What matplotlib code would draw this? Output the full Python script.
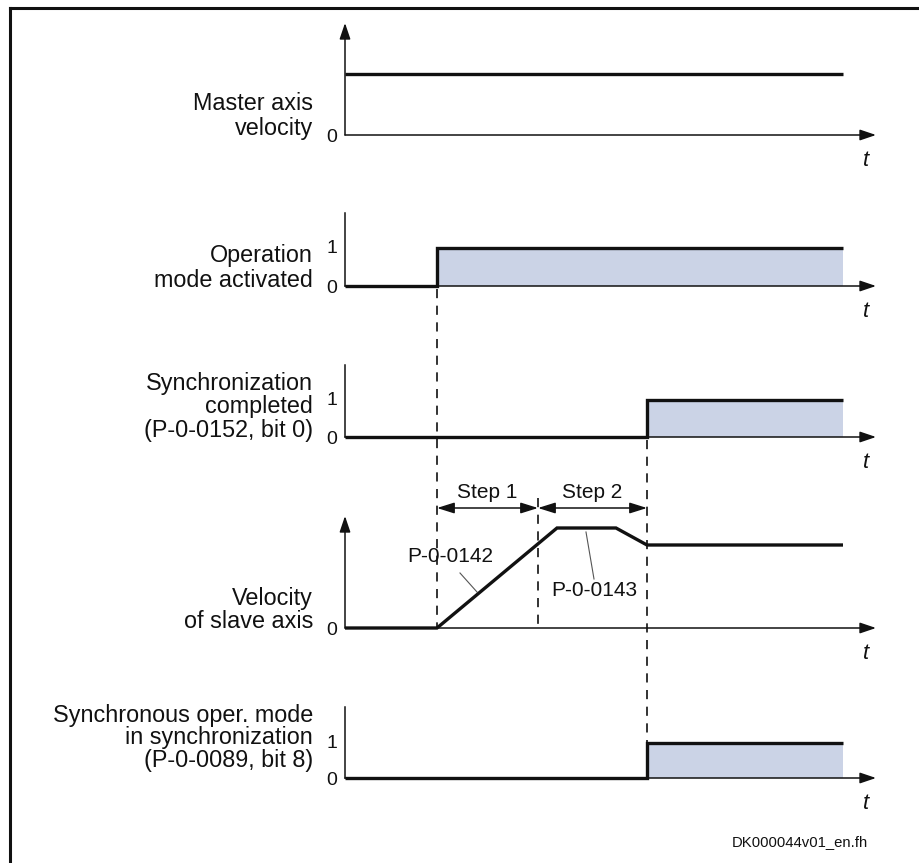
import matplotlib
matplotlib.use("Agg")
import matplotlib.pyplot as plt
import matplotlib.transforms as mtransforms

plt.rcParams["font.family"] = ["Liberation Sans", "DejaVu Sans"]

# ---- time instants (time axis units, origin at the vertical axes) ----
T_END = 498            # end of the drawn signals
T_AXIS_END = 531       # tip of the time-axis arrows
T_ACTIVATE = 92        # operation mode activated
T_STEP1_END = 193      # end of step 1
T_PLATEAU_START = 212  # slave reaches its peak velocity
T_PLATEAU_END = 271    # slave starts decelerating
T_SYNC = 302           # synchronization completed

# ---- signals ----
master_t = [0, T_END]
master_v = [1, 1]

opmode_t = [0, T_ACTIVATE, T_ACTIVATE, T_END]
opmode_v = [0, 0, 1, 1]

syncdone_t = [0, T_SYNC, T_SYNC, T_END]
syncdone_v = [0, 0, 1, 1]

slave_t = [0, T_ACTIVATE, T_PLATEAU_START, T_PLATEAU_END, T_SYNC, T_END]
slave_v = [0, 0, 1.0, 1.0, 0.83, 0.83]

syncmode_t = [0, T_SYNC, T_SYNC, T_END]
syncmode_v = [0, 0, 1, 1]

panel_labels = [
    ["Master axis", "velocity"],
    ["Operation", "mode activated"],
    ["Synchronization", "completed", "(P-0-0152, bit 0)"],
    ["Velocity", "of slave axis"],
    ["Synchronous oper. mode", "in synchronization", "(P-0-0089, bit 8)"],
]
level_ticks = [["0"], ["0", "1"], ["0", "1"], ["0"], ["0", "1"]]
step_labels = ["Step 1", "Step 2"]
param_labels = ["P-0-0142", "P-0-0143"]
doc_id = "DK000044v01_en.fh"

# ---- layout (canvas pixels) ----
W, H = 920, 863
X0 = 345                                   # canvas x of the vertical axes
bases = [135, 286, 437, 628, 778]          # zero line of each panel
amps = [61, 38, 37, 100, 35]               # pixels per unit of signal
tops = [23, 213, 365, 516, 707]            # top of each vertical axis
has_arrow = [True, False, False, True, False]
label_baselines = [[110, 135], [262, 287], [390, 413, 437], [605, 628],
                   [722, 744, 767]]
fill = [False, True, True, False, True]
series = [(master_t, master_v), (opmode_t, opmode_v), (syncdone_t, syncdone_v),
          (slave_t, slave_v), (syncmode_t, syncmode_v)]

FILL_COLOR = "#cbd3e6"
INK = "#111111"

fig = plt.figure(figsize=(W / 100, H / 100), dpi=100)
ax = fig.add_axes([0, 0, 1, 1])
ax.set_xlim(-X0, W - X0)
ax.set_ylim(H, 0)
ax.axis("off")

# frame (top and left edges)
ax.plot([-X0 + 10, W - X0], [8, 8], color=INK, lw=2.2, solid_capstyle="projecting")
ax.plot([-X0 + 10, -X0 + 10], [8, H], color=INK, lw=2.2, solid_capstyle="projecting")

axis_style = dict(arrowstyle="-|>,head_length=0.65,head_width=0.22",
                  color=INK, lw=1.1, shrinkA=0, shrinkB=0, mutation_scale=15)

for i in range(5):
    base, amp = bases[i], amps[i]
    tf = mtransforms.Affine2D().scale(1, -amp).translate(0, base) + ax.transData
    t, v = series[i]

    # time axis
    ax.annotate("", xy=(T_AXIS_END, base), xytext=(0, base),
                arrowprops=axis_style)
    # value axis
    if has_arrow[i]:
        ax.annotate("", xy=(0, tops[i]), xytext=(0, base), arrowprops=axis_style)
    else:
        ax.plot([0, 0], [base, tops[i]], color=INK, lw=1.1)

    # signal
    if fill[i]:
        ax.fill_between(t, v, 0, color=FILL_COLOR, lw=0, transform=tf, zorder=1)
    ax.plot(t, v, color=INK, lw=2.4, transform=tf, zorder=3,
            solid_joinstyle="miter", solid_capstyle="butt")

    # level labels
    for lab in level_ticks[i]:
        lv = float(lab)
        dy = 2 if lv == 0 else 0
        ax.text(-13, base - lv * amp + dy, lab, fontsize=14, color=INK,
                ha="center", va="center")

    # panel caption, one line at a time
    for line, yb in zip(panel_labels[i], label_baselines[i]):
        ax.text(-32, yb, line, fontsize=16.8, color=INK, ha="right",
                va="baseline")

    # time label
    ax.text(T_AXIS_END - 10, base + 25, "t", fontsize=16, style="italic",
            color=INK, ha="center", va="center")

# dashed event markers
dash = dict(color=INK, lw=1.2, linestyle=(0, (5.5, 4.5)), zorder=2)
ax.plot([T_ACTIVATE, T_ACTIVATE], [bases[1] + 3, bases[3]], **dash)
ax.plot([T_STEP1_END, T_STEP1_END], [498, bases[3]], **dash)
ax.plot([T_SYNC, T_SYNC], [bases[2] + 3, bases[4] - amps[4]], **dash)

# step dimension arrows
step_y = 508
dim_style = dict(arrowstyle="<|-|>,head_length=0.7,head_width=0.22",
                 color=INK, lw=1.1, shrinkA=0, shrinkB=0, mutation_scale=15)
ax.annotate("", xy=(T_STEP1_END, step_y), xytext=(T_ACTIVATE, step_y),
            arrowprops=dim_style)
ax.annotate("", xy=(T_SYNC, step_y), xytext=(T_STEP1_END, step_y),
            arrowprops=dim_style)
ax.text((T_ACTIVATE + T_STEP1_END) / 2, 498, step_labels[0], fontsize=15,
        color=INK, ha="center", va="baseline")
ax.text((T_STEP1_END + T_SYNC) / 2, 498, step_labels[1], fontsize=15,
        color=INK, ha="center", va="baseline")

# parameter call-outs
ax.text(450 - X0, 556, param_labels[0], fontsize=15, color=INK,
        ha="center", va="center")
ax.plot([460 - X0, 477 - X0], [573, 592], color="#555555", lw=0.8)
ax.text(594 - X0, 590, param_labels[1], fontsize=15, color=INK,
        ha="center", va="center",
        bbox=dict(facecolor="white", edgecolor="none", pad=0.5))
ax.plot([586 - X0, 594 - X0], [532, 579], color="#555555", lw=0.8)

# document id
ax.text(868 - X0, 842, doc_id, fontsize=10.7, color=INK, ha="right",
        va="center")

fig.savefig("out.png", dpi=100)
